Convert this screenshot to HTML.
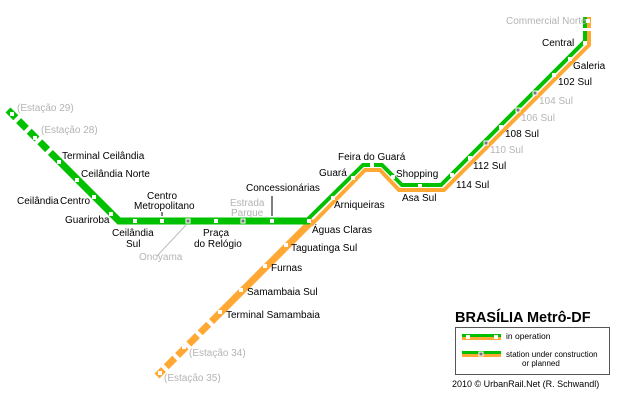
<!DOCTYPE html>
<html><head><meta charset="utf-8"><style>
body{margin:0;background:#fff}
svg{display:block}
text{font-family:"Liberation Sans",sans-serif;font-size:10px;fill:#000}
.g{fill:#b4b4b4}
</style></head><body>
<svg width="625" height="400" viewBox="0 0 625 400" xmlns="http://www.w3.org/2000/svg">
<line x1="313" y1="220" x2="220" y2="313" stroke="#ffa834" stroke-width="7"/>
<line x1="220" y1="313" x2="157" y2="376" stroke="#ffa834" stroke-width="7" stroke-dasharray="12,4"/>
<polyline points="311,225 365,170 380,170 399,190 444,190 589,45 589,17" fill="none" stroke="#ffa834" stroke-width="4"/>
<polyline points="306,221 363,165 382,165 402,185 441,185 585,41 585,17" fill="none" stroke="#00c000" stroke-width="4"/>
<rect x="582" y="28" width="10" height="3" fill="#fff"/>
<line x1="8" y1="110" x2="60" y2="162" stroke="#00c000" stroke-width="7" stroke-dasharray="11,4"/>
<polyline points="58,160 119,221 310,221" fill="none" stroke="#00c000" stroke-width="7"/>
<g fill="#fff">
<rect x="10" y="112" width="4" height="4"/><rect x="33" y="136" width="4" height="4"/><rect x="57" y="160" width="4" height="4"/>
<rect x="75" y="178" width="4" height="4"/><rect x="92" y="195" width="4" height="4"/><rect x="109" y="212" width="4" height="4"/>
<rect x="133" y="219" width="4" height="4"/><rect x="160" y="219" width="4" height="4"/><rect x="214" y="219" width="4" height="4"/><rect x="270" y="219" width="4" height="4"/>
<rect x="307" y="219" width="4" height="4"/><rect x="331" y="196" width="4" height="4"/><rect x="351" y="176" width="4" height="4"/><rect x="370" y="163" width="4" height="4"/>
<rect x="391" y="175" width="4" height="4"/><rect x="418" y="184" width="4" height="4"/><rect x="450" y="173" width="4" height="4"/><rect x="468" y="156" width="4" height="4"/>
<rect x="499" y="125" width="4" height="4"/><rect x="552" y="73" width="4" height="4"/><rect x="568" y="57" width="4" height="4"/><rect x="583" y="41" width="4" height="4"/><rect x="586" y="19" width="4" height="4"/>
<rect x="284" y="243" width="4" height="4"/><rect x="263" y="264" width="4" height="4"/><rect x="239" y="288" width="4" height="4"/><rect x="218" y="310" width="4" height="4"/>
<rect x="182" y="345" width="4" height="4"/><rect x="158" y="371" width="4" height="4"/>
</g>
<g fill="#777" stroke="#fff" stroke-width="1">
<rect x="186" y="219" width="4" height="4"/><rect x="241" y="219" width="4" height="4"/><rect x="484" y="141" width="4" height="4"/><rect x="516" y="108" width="4" height="4"/><rect x="533" y="91" width="4" height="4"/>
</g>
<line x1="162" y1="212" x2="162" y2="216" stroke="#000"/>
<line x1="272" y1="196" x2="272" y2="216" stroke="#000"/>
<line x1="186" y1="225" x2="157" y2="256" stroke="#bbb"/>
<text class="g" x="17" y="111">(Estação 29)</text>
<text class="g" x="41" y="133">(Estação 28)</text>
<text x="62" y="159">Terminal Ceilândia</text>
<text x="81" y="177">Ceilândia Norte</text>
<text x="17" y="204">Ceilândia</text><text x="60" y="204">Centro</text>
<text x="65" y="223">Guariroba</text>
<text x="112" y="236">Ceilândia</text><text x="126" y="247">Sul</text>
<text x="147" y="199">Centro</text><text x="134" y="209">Metropolitano</text>
<text class="g" x="139" y="260">Onoyama</text>
<text x="203" y="236">Praça</text><text x="194" y="247">do Relógio</text>
<text class="g" x="230" y="206">Estrada</text><text class="g" x="231" y="216">Parque</text>
<text x="246" y="191">Concessionárias</text>
<text x="312" y="233">Águas Claras</text>
<text x="334" y="208">Arniqueiras</text>
<text x="319" y="176">Guará</text>
<text x="338" y="160">Feira do Guará</text>
<text x="396" y="177">Shopping</text>
<text x="402" y="201">Asa Sul</text>
<text x="456" y="188">114 Sul</text>
<text x="473" y="169">112 Sul</text>
<text class="g" x="490" y="153">110 Sul</text>
<text x="505" y="137">108 Sul</text>
<text class="g" x="521" y="121">106 Sul</text>
<text class="g" x="539" y="104">104 Sul</text>
<text x="558" y="85">102 Sul</text>
<text x="573" y="69">Galeria</text>
<text x="542" y="46">Central</text>
<text class="g" x="506" y="24">Commercial Norte</text>
<text x="291" y="251">Taguatinga Sul</text>
<text x="271" y="271">Furnas</text>
<text x="247" y="295">Samambaia Sul</text>
<text x="226" y="318">Terminal Samambaia</text>
<text class="g" x="189" y="356">(Estação 34)</text>
<text class="g" x="164" y="381">(Estação 35)</text>
<text x="455" y="322" style="font-size:14.5px;font-weight:bold">BRASÍLIA Metrô-DF</text>
<rect x="455.5" y="327.5" width="154" height="47" fill="none" stroke="#555"/>
<rect x="462" y="334" width="39" height="3" fill="#00c000"/><rect x="462" y="337" width="39" height="3" fill="#ffa834"/>
<rect x="466" y="335" width="4" height="4" fill="#fff"/><rect x="494" y="335" width="4" height="4" fill="#fff"/>
<text x="506" y="339" style="font-size:8.5px">in operation</text>
<rect x="462" y="351" width="39" height="3" fill="#00c000"/><rect x="462" y="354" width="39" height="3" fill="#ffa834"/>
<rect x="479" y="352" width="4" height="4" fill="#777" stroke="#fff"/>
<text x="506" y="357" style="font-size:8px">station under construction</text>
<text x="522" y="366" style="font-size:8px">or planned</text>
<text x="452" y="387" style="font-size:9px">2010 © UrbanRail.Net (R. Schwandl)</text>
</svg>
</body></html>
